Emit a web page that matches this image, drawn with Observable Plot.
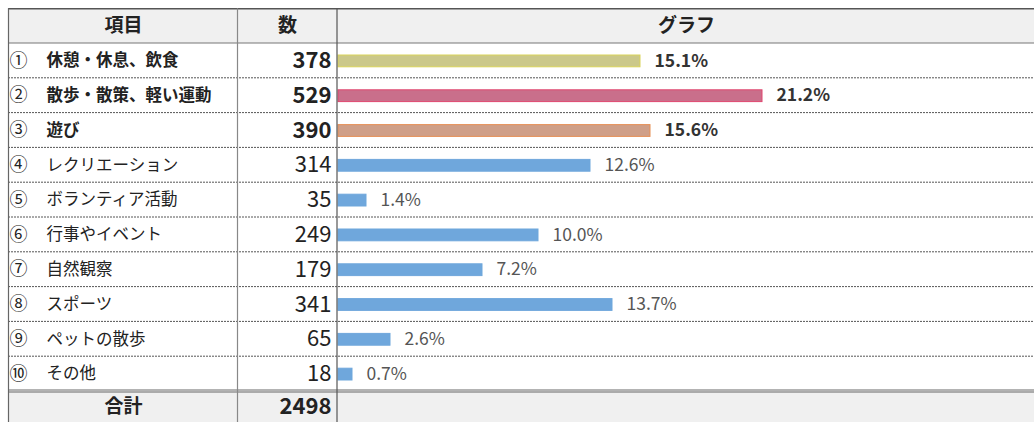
<!DOCTYPE html>
<html>
<head>
<meta charset="utf-8">
<script src="https://cdn.jsdelivr.net/npm/d3@7"></script>
<script src="https://cdn.jsdelivr.net/npm/@observablehq/plot@0.6"></script>
<style>
  html, body { margin: 0; padding: 0; background: #fff; }
  #chart svg { display: block; font-family: "Noto Sans CJK JP", "Noto Sans", sans-serif; }
</style>
</head>
<body>
<div id="chart"></div>
<script>
// ---- data ----
const marks = ["①","②","③","④","⑤","⑥","⑦","⑧","⑨","⑩"];
const items = ["休憩・休息、飲食","散歩・散策、軽い運動","遊び","レクリエーション","ボランティア活動","行事やイベント","自然観察","スポーツ","ペットの散歩","その他"];
const counts = [378, 529, 390, 314, 35, 249, 179, 341, 65, 18];
const pcts = [15.1, 21.2, 15.6, 12.6, 1.4, 10.0, 7.2, 13.7, 2.6, 0.7];
const highlight = [true, true, true, false, false, false, false, false, false, false];
const fills = ["#cbc88a", "#c96f8b", "#cf9f88", "#6fa7dc", "#6fa7dc", "#6fa7dc", "#6fa7dc", "#6fa7dc", "#6fa7dc", "#6fa7dc"];
const strokes = ["#d9d35a", "#e0466f", "#e68f55", "#6fa7dc", "#6fa7dc", "#6fa7dc", "#6fa7dc", "#6fa7dc", "#6fa7dc", "#6fa7dc"];
const gridTicks = [5, 10, 15, 20, 25, 30];
const headerItem = "項目", headerCount = "数", headerGraph = "グラフ";
const totalLabel = "合計", totalCount = 2498;

const rows = items.map((item, i) => ({
  mark: marks[i], item, count: counts[i], pct: pcts[i],
  bold: highlight[i], fill: fills[i], stroke: strokes[i]
}));
const boldRows = rows.filter(d => d.bold);
const plainRows = rows.filter(d => !d.bold);
const yDomain = [headerItem, ...items, totalLabel];
const grid = gridTicks.flatMap(t => items.map(item => ({t, item})));

const W = 1034, H = 422;

function rowTexts(data, weight, pctColor) {
  return [
    Plot.text(data, {y: "item", text: "item", frameAnchor: "left", dx: 46, textAnchor: "start", fontSize: 16.5, fontWeight: weight, fill: "#222"}),
    Plot.text(data, {y: "item", text: d => String(d.count), frameAnchor: "left", dx: 331, textAnchor: "end", fontSize: 22, fontWeight: weight, fill: "#222"}),
    Plot.text(data, {x: "pct", y: "item", text: d => d.pct.toFixed(1) + "%", dx: 14, textAnchor: "start", fontSize: 17.5, fontWeight: weight, fill: pctColor})
  ];
}

const plot = Plot.plot({
  width: W, height: H,
  marginLeft: 0, marginRight: 0, marginTop: 0, marginBottom: 0,
  x: {domain: [0, 34.8], range: [338, 1034], axis: null},
  y: {type: "band", domain: yDomain, range: [8.2, 425.8], padding: 0, round: false, axis: null},
  style: {fontFamily: '"Noto Sans CJK JP", "Noto Sans", sans-serif', background: "transparent"},
  marks: [
    Plot.ruleX(grid, {x: "t", y: "item", stroke: "#d3d3d3", strokeWidth: 1.2}),
    Plot.barX(rows, {x: "pct", y: "item", fill: "fill", stroke: "stroke", strokeWidth: 1, insetTop: 12, insetBottom: 11}),
    // item column
    Plot.text(rows, {y: "item", text: "mark", frameAnchor: "left", dx: 9, textAnchor: "start", fontSize: 18, fill: "#222"}),
    ...rowTexts(boldRows, "bold", "#333"),
    ...rowTexts(plainRows, "normal", "#555"),
    // header
    Plot.text([headerItem], {y: d => d, text: d => d, frameAnchor: "left", dx: 123, textAnchor: "middle", fontSize: 19, fontWeight: "bold", fill: "#222"}),
    Plot.text([headerCount], {y: () => headerItem, text: d => d, frameAnchor: "left", dx: 287, textAnchor: "middle", fontSize: 19, fontWeight: "bold", fill: "#222"}),
    Plot.text([headerGraph], {y: () => headerItem, text: d => d, frameAnchor: "left", dx: 686, textAnchor: "middle", fontSize: 19, fontWeight: "bold", fill: "#222"}),
    // total
    Plot.text([totalLabel], {y: d => d, text: d => d, frameAnchor: "left", dx: 123, textAnchor: "middle", fontSize: 19, fontWeight: "bold", fill: "#222", dy: -2}),
    Plot.text([totalCount], {y: () => totalLabel, text: d => String(d), frameAnchor: "left", dx: 331, textAnchor: "end", fontSize: 22, fontWeight: "bold", fill: "#222", dy: -2})
  ]
});
document.getElementById("chart").appendChild(plot);

// ---- table decoration (backgrounds, borders, row separators) ----
const y = plot.scale("y");
const bw = y.bandwidth;
const yTop = y.apply(headerItem);
const yHeadBottom = yTop + bw;
const yRowsBottom = y.apply(totalLabel);
const svg = d3.select(plot);
const bg = svg.insert("g", ":first-child");
bg.append("rect").attr("x", 8).attr("y", yTop).attr("width", W - 8).attr("height", bw).attr("fill", "#f0f0f0");
bg.append("rect").attr("x", 8).attr("y", yRowsBottom).attr("width", W - 8).attr("height", H - yRowsBottom).attr("fill", "#f0f0f0");

const fg = svg.append("g").attr("fill", "none");
items.slice(0, -1).forEach(it => {
  const yy = y.apply(it) + bw;
  fg.append("line").attr("x1", 8).attr("x2", W).attr("y1", yy).attr("y2", yy)
    .attr("stroke", "#555").attr("stroke-width", 1).attr("stroke-dasharray", "2,1");
});
fg.append("line").attr("x1", 8).attr("x2", W).attr("y1", yTop + 0.5).attr("y2", yTop + 0.5).attr("stroke", "#555").attr("stroke-width", 1.5);
fg.append("line").attr("x1", 8).attr("x2", W).attr("y1", yHeadBottom).attr("y2", yHeadBottom).attr("stroke", "#777").attr("stroke-width", 1);
fg.append("line").attr("x1", 8).attr("x2", W).attr("y1", yRowsBottom - 1).attr("y2", yRowsBottom - 1).attr("stroke", "#666").attr("stroke-width", 1);
fg.append("line").attr("x1", 8).attr("x2", W).attr("y1", yRowsBottom + 1).attr("y2", yRowsBottom + 1).attr("stroke", "#666").attr("stroke-width", 1);
[[8.5, "#666"], [237.5, "#888"], [337, "#555"]].forEach(([x, c]) => {
  fg.append("line").attr("x1", x).attr("x2", x).attr("y1", yTop).attr("y2", H).attr("stroke", c).attr("stroke-width", 1.2);
});
</script>
</body>
</html>
